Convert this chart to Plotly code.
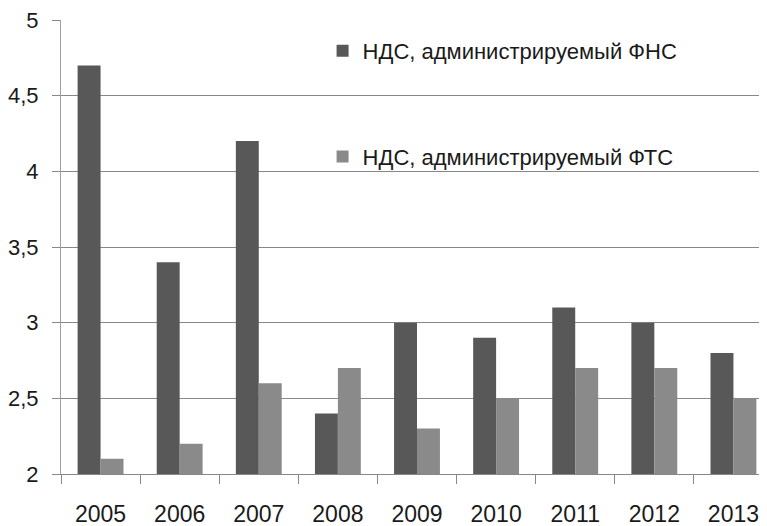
import plotly.graph_objects as go

years = ["2005", "2006", "2007", "2008", "2009", "2010", "2011", "2012", "2013"]
fns_values = [4.7, 3.4, 4.2, 2.4, 3.0, 2.9, 3.1, 3.0, 2.8]
fts_values = [2.1, 2.2, 2.6, 2.7, 2.3, 2.5, 2.7, 2.7, 2.5]
fns_name = "НДС, администрируемый ФНС"
fts_name = "НДС, администрируемый ФТС"
y_ticks = [2, 2.5, 3, 3.5, 4, 4.5, 5]

legend_font = "Liberation Sans Narrow, Arial Narrow, Liberation Sans, sans-serif"
tick_font = "Liberation Sans, Arial, sans-serif"

fig = go.Figure()
fig.add_trace(go.Bar(x=years, y=fns_values, name=fns_name, marker_color="#585858",
                     marker_line_width=0, legendgroup="a"))
fig.add_trace(go.Bar(x=years, y=fts_values, name=fts_name, marker_color="#8a8a8a",
                     marker_line_width=0, legendgroup="b"))

# the page body adds an 8px offset; margins compensate for it
fig.update_layout(
    template="none",
    width=767, height=526,
    margin=dict(l=53, r=2, t=12, b=60, pad=0),
    paper_bgcolor="white", plot_bgcolor="white",
    barmode="group", bargap=0.42, bargroupgap=0,
    separators=", ",
    font=dict(family=legend_font, size=22, color="#1a1a1a"),
    legend=dict(x=0.3674, y=0.978, xanchor="left", yanchor="top",
                bgcolor="rgba(0,0,0,0)", tracegroupgap=74,
                font=dict(size=22, family=legend_font), itemwidth=30,
                traceorder="grouped"),
    showlegend=True,
)
fig.update_xaxes(
    type="category", tickson="boundaries", ticks="outside", ticklen=9,
    tickcolor="#888888", showline=True, linecolor="#888888", linewidth=1,
    showgrid=False, ticklabelstandoff=19, automargin=False,
    ticklabeloverflow="allow",
    tickfont=dict(size=23, family=tick_font),
)
fig.update_yaxes(
    range=[2, 5], tickvals=y_ticks, ticks="outside", ticklen=8,
    tickcolor="#888888", showline=True, linecolor="#a0a0a0", linewidth=1,
    showgrid=True, gridcolor="#888888", gridwidth=1, zeroline=False,
    tickformat=".1~f", ticklabelstandoff=9, automargin=False,
    ticklabeloverflow="allow",
    tickfont=dict(size=22, family=tick_font),
)

fig.write_html("out.html")
